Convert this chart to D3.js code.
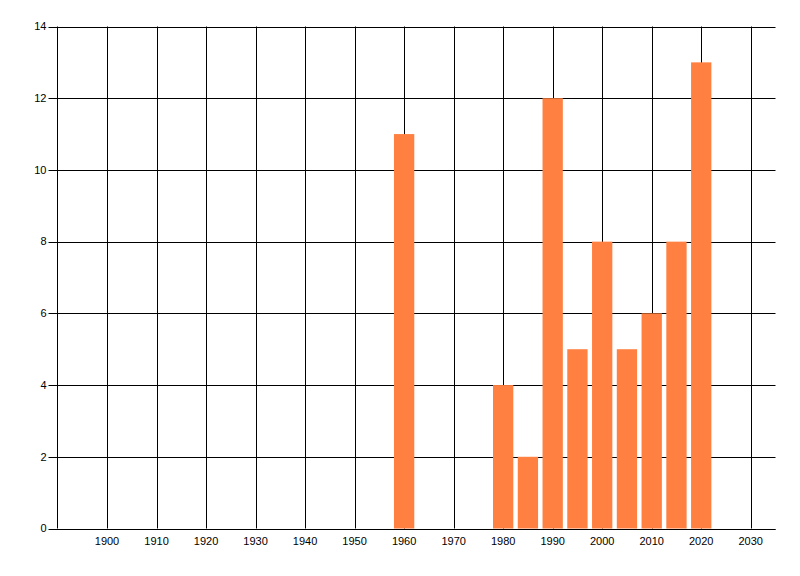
<!DOCTYPE html>
<html>
<head>
<meta charset="utf-8">
<script src="https://cdn.jsdelivr.net/npm/d3@7"></script>
<style>
  body { margin: 0; background: #fff; }
  svg { display: block; }
</style>
</head>
<body>
<svg id="chart"></svg>
<script>
// data
const years = [1960, 1980, 1985, 1990, 1995, 2000, 2005, 2010, 2015, 2020];
const counts = [11, 4, 2, 12, 5, 8, 5, 6, 8, 13];
const xTicks = [1900, 1910, 1920, 1930, 1940, 1950, 1960, 1970, 1980, 1990, 2000, 2010, 2020, 2030];
const yTicks = [0, 2, 4, 6, 8, 10, 12, 14];

const W = 800, H = 576;
const plotL = 57.5, plotR = 775.5, plotT = 26.5, plotB = 528.5;

const svg = d3.select("#chart")
    .attr("width", W)
    .attr("height", H);

const x = d3.scaleLinear()
    .domain([1890, 2035])
    .range([plotL, plotR]);

const y = d3.scaleLinear()
    .domain([0, 14])
    .range([plotB, plotT]);

const fontFam = "'Liberation Sans', Arial, sans-serif";

// vertical grid lines
svg.append("g")
    .selectAll("line")
    .data(xTicks)
    .enter()
    .append("line")
    .attr("x1", d => Math.round(x(d)) + 0.5)
    .attr("x2", d => Math.round(x(d)) + 0.5)
    .attr("y1", plotT)
    .attr("y2", plotB)
    .attr("stroke", "#000")
    .attr("stroke-width", 1);

// horizontal grid lines + y ticks
svg.append("g")
    .selectAll("line")
    .data(yTicks)
    .enter()
    .append("line")
    .attr("x1", plotL - 9)
    .attr("x2", plotR)
    .attr("y1", d => Math.round(y(d)) + 0.5)
    .attr("y2", d => Math.round(y(d)) + 0.5)
    .attr("stroke", "#000")
    .attr("stroke-width", 1);

// bars (about 4 years wide, centred on the year)
svg.append("g")
    .selectAll("rect")
    .data(years)
    .enter()
    .append("rect")
    .attr("x", d => x(d - 2.05))
    .attr("width", d => x(d + 2.05) - x(d - 2.05))
    .attr("y", (d, i) => y(counts[i]))
    .attr("height", (d, i) => y(0) - y(counts[i]))
    .attr("fill", "#FF8040");

// left axis line
svg.append("line")
    .attr("x1", plotL).attr("x2", plotL)
    .attr("y1", plotT).attr("y2", plotB)
    .attr("stroke", "#000");

// bottom axis line
svg.append("line")
    .attr("x1", plotL).attr("x2", plotR)
    .attr("y1", Math.round(y(0)) + 0.5).attr("y2", Math.round(y(0)) + 0.5)
    .attr("stroke", "#000");

// y labels
svg.append("g")
    .selectAll("text")
    .data(yTicks)
    .enter()
    .append("text")
    .attr("x", plotL - 11)
    .attr("y", d => y(d))
    .attr("dy", "0.35em")
    .attr("text-anchor", "end")
    .attr("font-family", fontFam)
    .attr("font-size", "11px")
    .attr("fill", "#000")
    .text(d => d);

// x labels
svg.append("g")
    .selectAll("text")
    .data(xTicks)
    .enter()
    .append("text")
    .attr("x", d => x(d))
    .attr("y", plotB + 16)
    .attr("text-anchor", "middle")
    .attr("font-family", fontFam)
    .attr("font-size", "11px")
    .attr("fill", "#000")
    .text(d => d);
</script>
</body>
</html>
